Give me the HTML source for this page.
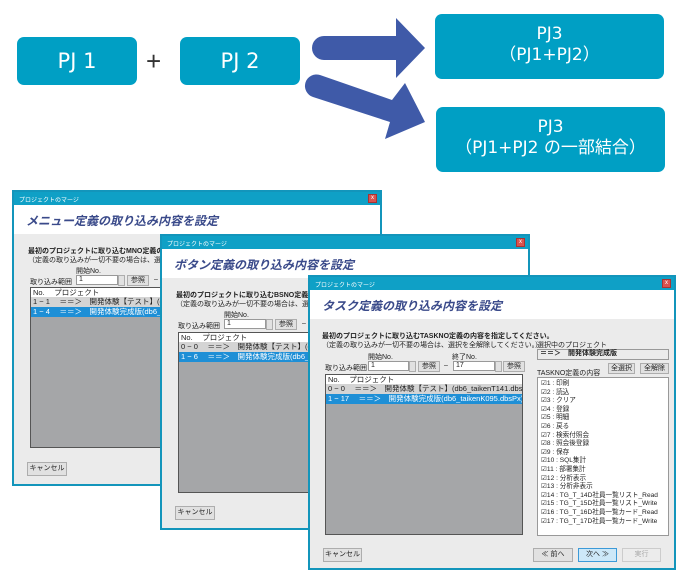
<!DOCTYPE html>
<html><head><meta charset="utf-8"><style>
*{margin:0;padding:0;box-sizing:border-box}
body{width:694px;height:581px;background:#fff;position:relative;overflow:hidden;font-family:"Liberation Sans","Noto Sans CJK JP",sans-serif}
.a{position:absolute}
.pj{position:absolute;background:#009fc4;border-radius:7px;color:#fff;text-align:center;font-family:"DejaVu Sans","Noto Sans CJK JP",sans-serif}
.win{position:absolute;background:#ebebeb;border:2px solid #1395bb;overflow:hidden;font-size:7px;color:#222}
.tb{position:absolute;left:0;top:0;right:0;height:13px;background:#0fa0c6;color:#fff;font-size:6px;padding:3px 0 0 5px}
.x{position:absolute;right:3px;top:2px;width:9px;height:9px;background:#d9534f;border:1px solid #a33;color:#fff;font-size:6px;line-height:7px;text-align:center}
.hd{position:absolute;left:0;right:0;top:13px;height:29px;background:#fff}
.ttl{position:absolute;left:12px;top:7px;font-size:12px;font-style:italic;font-weight:bold;color:#3a4a8a;white-space:nowrap}
.t{position:absolute;white-space:nowrap}
.b{font-weight:bold}
.inp{position:absolute;height:10px;background:#fff;border:1px solid #999;font-size:7px;padding-left:2px;line-height:8px}
.btn{position:absolute;height:11px;background:#e1e1e1;border:1px solid #adadad;font-size:7px;text-align:center;line-height:9px}
.list{position:absolute;background:#a5a6a8;border:1px solid #555;overflow:hidden}
.row{position:absolute;left:0;right:0;height:10px;font-size:7.5px;line-height:10px;padding-left:2px;white-space:nowrap}
</style></head><body>

<div class="pj" style="left:17px;top:37px;width:120px;height:48px;font-size:21px;line-height:48px">PJ 1</div>
<div class="a" style="left:146px;top:48px;font-size:26px;color:#333;line-height:26px">+</div>
<div class="pj" style="left:180px;top:37px;width:120px;height:48px;font-size:21px;line-height:48px">PJ 2</div>
<div class="pj" style="left:435px;top:14px;width:229px;height:65px;font-size:17px;line-height:21px;padding-top:10px">PJ3<br>（PJ1+PJ2）</div>
<div class="pj" style="left:436px;top:107px;width:229px;height:65px;font-size:17px;line-height:21px;padding-top:10px">PJ3<br>（PJ1+PJ2 の一部結合）</div>
<svg class="a" style="left:0;top:0" width="694" height="200">
<path d="M324 36 L396 36 L396 18 L425 48 L396 78 L396 60 L324 60 A12 12 0 0 1 324 36 Z" fill="#3f5aa8"/>
<path d="M320 75 L392 100 L405 83 L425 122 L385 139 L390 122 L313 97 A11 11 0 0 1 320 75 Z" fill="#3f5aa8"/>
</svg>

<!-- window 1 -->
<div class="win" style="left:12px;top:190px;width:370px;height:296px">
<div class="tb">プロジェクトのマージ</div><div class="x">x</div>
<div class="hd"><div class="ttl">メニュー定義の取り込み内容を設定</div></div>
<div class="t b" style="left:14px;top:54px">最初のプロジェクトに取り込むMNO定義の内容を指定してください。</div>
<div class="t" style="left:14px;top:63px">（定義の取り込みが一切不要の場合は、選択を全解除してください。）</div>
<div class="t" style="left:62px;top:74px">開始No.</div>
<div class="t" style="left:16px;top:85px">取り込み範囲</div>
<div class="inp" style="left:62px;top:83px;width:42px">1</div>
<div class="btn" style="left:104px;top:83px;width:7px"></div>
<div class="btn" style="left:113px;top:83px;width:22px">参照</div>
<div class="t" style="left:140px;top:84px">–</div>
<div class="list" style="left:16px;top:95px;width:198px;height:161px">
<div class="row" style="top:0;background:#fff;height:9px;line-height:9px">No.　 プロジェクト</div>
<div class="row" style="top:9px;background:#d4d4d4">1 − 1 　＝＝＞　開発体験【テスト】(db6_taikenT141.dbsPx)</div>
<div class="row" style="top:19px;background:#1e8fd6;color:#fff">1 − 4 　＝＝＞　開発体験完成版(db6_taikenK095.dbsPx)</div>
</div>
<div class="btn" style="left:13px;top:270px;width:40px;height:14px;line-height:12px">キャンセル</div>
</div>

<!-- window 2 -->
<div class="win" style="left:160px;top:234px;width:370px;height:296px">
<div class="tb">プロジェクトのマージ</div><div class="x">x</div>
<div class="hd"><div class="ttl">ボタン定義の取り込み内容を設定</div></div>
<div class="t b" style="left:14px;top:54px">最初のプロジェクトに取り込むBSNO定義の内容を指定してください。</div>
<div class="t" style="left:14px;top:63px">（定義の取り込みが一切不要の場合は、選択を全解除してください。）</div>
<div class="t" style="left:62px;top:74px">開始No.</div>
<div class="t" style="left:16px;top:85px">取り込み範囲</div>
<div class="inp" style="left:62px;top:83px;width:42px">1</div>
<div class="btn" style="left:104px;top:83px;width:7px"></div>
<div class="btn" style="left:113px;top:83px;width:22px">参照</div>
<div class="t" style="left:140px;top:84px">–</div>
<div class="list" style="left:16px;top:96px;width:198px;height:161px">
<div class="row" style="top:0;background:#fff;height:9px;line-height:9px">No.　 プロジェクト</div>
<div class="row" style="top:9px;background:#d4d4d4">0 − 0 　＝＝＞　開発体験【テスト】(db6_taikenT141.dbsPx)</div>
<div class="row" style="top:19px;background:#1e8fd6;color:#fff">1 − 6 　＝＝＞　開発体験完成版(db6_taikenK095.dbsPx)</div>
</div>
<div class="btn" style="left:13px;top:270px;width:40px;height:14px;line-height:12px">キャンセル</div>
</div>

<!-- window 3 -->
<div class="win" style="left:308px;top:275px;width:368px;height:295px">
<div class="tb">プロジェクトのマージ</div><div class="x">x</div>
<div class="hd"><div class="ttl">タスク定義の取り込み内容を設定</div></div>
<div class="t b" style="left:12px;top:54px">最初のプロジェクトに取り込むTASKNO定義の内容を指定してください。</div>
<div class="t" style="left:12px;top:63px">（定義の取り込みが一切不要の場合は、選択を全解除してください。）</div>
<div class="t" style="left:58px;top:75px">開始No.</div>
<div class="t" style="left:142px;top:75px">終了No.</div>
<div class="t" style="left:15px;top:86px">取り込み範囲</div>
<div class="inp" style="left:58px;top:84px;width:41px">1</div>
<div class="btn" style="left:99px;top:84px;width:7px"></div>
<div class="btn" style="left:108px;top:84px;width:22px">参照</div>
<div class="t" style="left:134px;top:85px">–</div>
<div class="inp" style="left:143px;top:84px;width:42px">17</div>
<div class="btn" style="left:185px;top:84px;width:7px"></div>
<div class="btn" style="left:193px;top:84px;width:22px">参照</div>
<div class="list" style="left:15px;top:97px;width:198px;height:161px">
<div class="row" style="top:0;background:#fff;height:9px;line-height:9px">No.　 プロジェクト</div>
<div class="row" style="top:9px;background:#d4d4d4">0 − 0 　＝＝＞　開発体験【テスト】(db6_taikenT141.dbsPx)</div>
<div class="row" style="top:19px;background:#1e8fd6;color:#fff">1 − 17 　＝＝＞　開発体験完成版(db6_taikenK095.dbsPx)</div>
</div>
<div class="t" style="left:227px;top:63px">選択中のプロジェクト</div>
<div class="inp" style="left:227px;top:72px;width:132px;height:11px;background:#ebebeb;font-weight:bold">＝＝＞　開発体験完成版</div>
<div class="t" style="left:227px;top:91px">TASKNO定義の内容</div>
<div class="btn" style="left:298px;top:86px;width:27px">全選択</div>
<div class="btn" style="left:330px;top:86px;width:29px">全解除</div>
<div class="a" style="left:227px;top:100px;width:132px;height:159px;background:#fff;border:1px solid #999;font-size:6.6px;line-height:8.6px;padding:2px 0 0 3px;white-space:nowrap">
☑1 : 印刷<br>☑2 : 読込<br>☑3 : クリア<br>☑4 : 登録<br>☑5 : 明細<br>☑6 : 戻る<br>☑7 : 検索付照会<br>☑8 : 照会後登録<br>☑9 : 保存<br>☑10 : SQL集計<br>☑11 : 部署集計<br>☑12 : 分析表示<br>☑13 : 分析非表示<br>☑14 : TG_T_14D社員一覧リスト_Read<br>☑15 : TG_T_15D社員一覧リスト_Write<br>☑16 : TG_T_16D社員一覧カード_Read<br>☑17 : TG_T_17D社員一覧カード_Write
</div>
<div class="btn" style="left:13px;top:271px;width:39px;height:14px;line-height:12px">キャンセル</div>
<div class="btn" style="left:223px;top:271px;width:40px;height:14px;line-height:12px">≪ 前へ</div>
<div class="btn" style="left:268px;top:271px;width:39px;height:14px;line-height:12px;background:#cde8f8;border-color:#3c9ad8">次へ ≫</div>
<div class="btn" style="left:312px;top:271px;width:39px;height:14px;line-height:12px;color:#aaa;background:#ececec;border-color:#ccc">実行</div>
</div>
</body></html>
